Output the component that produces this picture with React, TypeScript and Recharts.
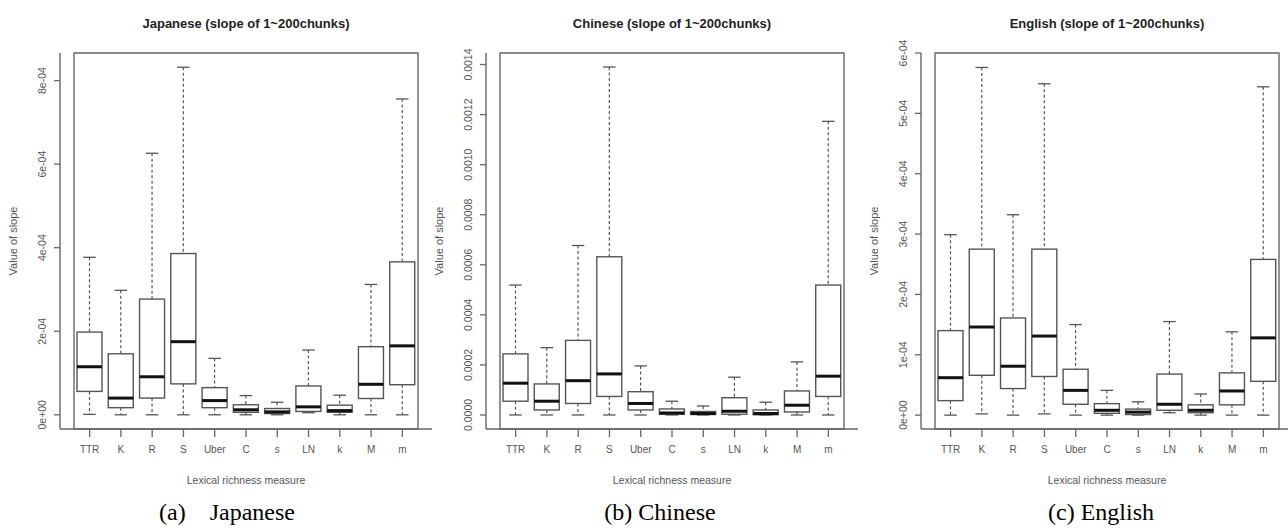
import React from "react";
import { Bar, ComposedChart, Label, ReferenceArea, XAxis, YAxis } from "recharts";

// Lexical richness measures along the x axis
const measures = ["TTR", "K", "R", "S", "Uber", "C", "s", "LN", "k", "M", "m"];

// Slope values, in units of 1e-4
const jaMin = [0.01, 0.0, 0.0, 0.0, 0.0, 0.0, 0.0, 0.05, 0.0, 0.0, 0.0];
const jaQ1 = [0.56, 0.17, 0.4, 0.74, 0.17, 0.06, 0.03, 0.08, 0.06, 0.39, 0.72];
const jaMedian = [1.15, 0.4, 0.91, 1.75, 0.34, 0.12, 0.07, 0.19, 0.1, 0.73, 1.65];
const jaQ3 = [1.98, 1.46, 2.77, 3.86, 0.65, 0.24, 0.15, 0.69, 0.23, 1.63, 3.66];
const jaMax = [3.77, 2.98, 6.26, 8.32, 1.35, 0.46, 0.3, 1.55, 0.47, 3.12, 7.56];

const zhMin = [0.0, 0.0, 0.0, 0.0, 0.0, 0.0, 0.0, 0.0, 0.0, 0.0, 0.0];
const zhQ1 = [0.55, 0.2, 0.46, 0.74, 0.2, 0.03, 0.02, 0.03, 0.01, 0.12, 0.74];
const zhMedian = [1.27, 0.55, 1.37, 1.64, 0.46, 0.08, 0.06, 0.15, 0.06, 0.39, 1.55];
const zhQ3 = [2.44, 1.24, 2.98, 6.32, 0.93, 0.24, 0.14, 0.69, 0.2, 0.96, 5.19];
const zhMax = [5.19, 2.69, 6.77, 13.9, 1.96, 0.55, 0.36, 1.51, 0.51, 2.12, 11.73];

const enMin = [0.0, 0.02, 0.0, 0.02, 0.0, 0.0, 0.0, 0.04, 0.0, 0.0, 0.0];
const enQ1 = [0.24, 0.66, 0.44, 0.64, 0.18, 0.03, 0.01, 0.08, 0.04, 0.17, 0.56];
const enMedian = [0.62, 1.46, 0.81, 1.31, 0.41, 0.08, 0.05, 0.18, 0.08, 0.4, 1.28];
const enQ3 = [1.4, 2.75, 1.61, 2.75, 0.76, 0.19, 0.1, 0.68, 0.17, 0.7, 2.58];
const enMax = [2.99, 5.76, 3.32, 5.49, 1.5, 0.41, 0.22, 1.55, 0.35, 1.38, 5.44];

// y axis ticks (1e-4 units) and their printed labels
const jaTicks = [0, 2, 4, 6, 8];
const jaTickLabels = ["0e+00", "2e-04", "4e-04", "6e-04", "8e-04"];
const zhTicks = [0, 2, 4, 6, 8, 10, 12, 14];
const zhTickLabels = ["0.0000", "0.0002", "0.0004", "0.0006", "0.0008", "0.0010", "0.0012", "0.0014"];
const enTicks = [0, 1, 2, 3, 4, 5, 6];
const enTickLabels = ["0e+00", "1e-04", "2e-04", "3e-04", "4e-04", "5e-04", "6e-04"];

const SANS = "'Liberation Sans', Arial, sans-serif";
const SERIF = "'Liberation Serif', 'Times New Roman', serif";
const FRAME = "#666";
const INK = "#555";

const buildRows = (
  mins: number[],
  q1s: number[],
  medians: number[],
  q3s: number[],
  maxs: number[]
) =>
  measures.map((name, i) => ({
    name,
    min: mins[i],
    q1: q1s[i],
    median: medians[i],
    q3: q3s[i],
    max: maxs[i],
    range: [mins[i], maxs[i]],
  }));

// Box-and-whisker glyph drawn inside the min..max range bar
const BoxShape = (props: any) => {
  const { x, y, width, height, payload } = props;
  const { min, q1, median, q3, max } = payload;
  const py = (v: number) => y + (height * (max - v)) / (max - min);
  const cx = x + width / 2;
  const half = width / 4;
  return (
    <g>
      <line x1={cx} x2={cx} y1={py(max)} y2={py(q3)} stroke={INK} strokeWidth={1.2} strokeDasharray="3 2.5" />
      <line x1={cx} x2={cx} y1={py(q1)} y2={py(min)} stroke={INK} strokeWidth={1.2} strokeDasharray="3 2.5" />
      <line x1={cx - half} x2={cx + half} y1={py(max)} y2={py(max)} stroke={INK} strokeWidth={1.3} />
      <line x1={cx - half} x2={cx + half} y1={py(min)} y2={py(min)} stroke={INK} strokeWidth={1.3} />
      <rect x={x} y={py(q3)} width={width} height={py(q1) - py(q3)} fill="#fff" stroke={INK} strokeWidth={1.4} />
      <line x1={x} x2={x + width} y1={py(median)} y2={py(median)} stroke="#111" strokeWidth={3} />
    </g>
  );
};

const YTick = ({ x, y, payload, labels, ticks }: any) => {
  const label = labels[ticks.indexOf(payload.value)];
  return (
    <text
      x={x}
      y={y}
      transform={`rotate(-90, ${x}, ${y})`}
      textAnchor="middle"
      fontSize={10.5}
      fontFamily={SANS}
      fill={INK}
    >
      {label}
    </text>
  );
};

const YTitle = ({ viewBox }: any) => {
  const tx = viewBox.x + 17;
  const ty = viewBox.y + viewBox.height / 2;
  return (
    <text x={tx} y={ty} transform={`rotate(-90, ${tx}, ${ty})`} textAnchor="middle" fontSize={11} fontFamily={SANS} fill={INK}>
      Value of slope
    </text>
  );
};

const XTitle = ({ viewBox }: any) => (
  <text x={viewBox.x + viewBox.width / 2} y={viewBox.y + 55} textAnchor="middle" fontSize={10.5} fontFamily={SANS} fill={INK}>
    Lexical richness measure
  </text>
);

interface PanelProps {
  left: number;
  title: string;
  rows: ReturnType<typeof buildRows>;
  domain: [number, number];
  ticks: number[];
  tickLabels: string[];
}

const Panel = ({ left, title, rows, domain, ticks, tickLabels }: PanelProps) => (
  <div style={{ position: "absolute", left, top: 0, width: 436, height: 500 }}>
    <div
      style={{
        position: "absolute",
        left: 60,
        top: 16,
        width: 372,
        textAlign: "center",
        fontFamily: SANS,
        fontWeight: "bold",
        fontSize: 13,
        lineHeight: "15px",
        color: "#222",
      }}
    >
      {title}
    </div>
    <ComposedChart width={436} height={500} data={rows} margin={{ top: 53, right: 4, bottom: 0, left: 0 }}>
      <XAxis
        dataKey="name"
        height={71}
        padding={{ left: 14, right: 14 }}
        tickSize={8}
        tickMargin={9}
        tick={{ fontSize: 10, fontFamily: SANS, fill: INK }}
        tickLine={{ stroke: FRAME, strokeWidth: 1.3 }}
        axisLine={{ stroke: FRAME, strokeWidth: 1.4 }}
        interval={0}
      >
        <Label content={<XTitle />} />
      </XAxis>
      <YAxis
        type="number"
        width={60}
        domain={domain}
        ticks={ticks}
        allowDataOverflow
        tickSize={6}
        tickMargin={8}
        tick={<YTick labels={tickLabels} ticks={ticks} />}
        tickLine={{ stroke: FRAME, strokeWidth: 1.3 }}
        axisLine={{ stroke: FRAME, strokeWidth: 1.4 }}
      >
        <Label content={<YTitle />} />
      </YAxis>
      {/* plot frame: spans the whole y domain and full width */}
      <ReferenceArea y1={domain[0]} y2={domain[1]} fill="none" fillOpacity={0} stroke={FRAME} strokeWidth={1.4} ifOverflow="visible" />
      <Bar dataKey="range" barSize={25} shape={<BoxShape />} isAnimationActive={false} />
    </ComposedChart>
  </div>
);

const Caption = ({ center, children }: { center: number; children: React.ReactNode }) => (
  <div
    style={{
      position: "absolute",
      left: center - 150,
      top: 498,
      width: 300,
      textAlign: "center",
      fontFamily: SERIF,
      fontSize: 24,
      lineHeight: "28px",
      color: "#000",
      whiteSpace: "pre",
    }}
  >
    {children}
  </div>
);

export default function App() {
  return (
    <div style={{ position: "absolute", left: 0, top: 0, width: 1288, height: 530, overflow: "hidden", background: "#fff" }}>
      <Panel
        left={0}
        title="Japanese (slope of 1~200chunks)"
        rows={buildRows(jaMin, jaQ1, jaMedian, jaQ3, jaMax)}
        domain={[-0.34, 8.66]}
        ticks={jaTicks}
        tickLabels={jaTickLabels}
      />
      <Panel
        left={426}
        title="Chinese (slope of 1~200chunks)"
        rows={buildRows(zhMin, zhQ1, zhMedian, zhQ3, zhMax)}
        domain={[-0.56, 14.46]}
        ticks={zhTicks}
        tickLabels={zhTickLabels}
      />
      <Panel
        left={861}
        title="English (slope of 1~200chunks)"
        rows={buildRows(enMin, enQ1, enMedian, enQ3, enMax)}
        domain={[-0.23, 6.0]}
        ticks={enTicks}
        tickLabels={enTickLabels}
      />
      <Caption center={227}>{"(a)    Japanese"}</Caption>
      <Caption center={660}>(b) Chinese</Caption>
      <Caption center={1101}>(c) English</Caption>
    </div>
  );
}
